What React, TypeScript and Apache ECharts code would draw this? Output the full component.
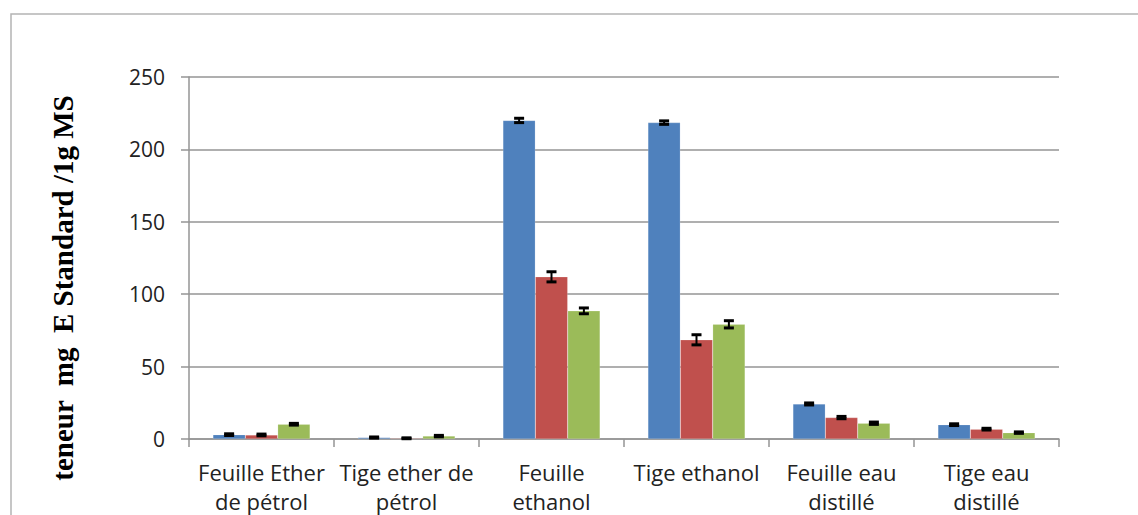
import React, { useEffect, useRef } from "react";
import * as echarts from "echarts";

const categories = [
  "Feuille Ether\nde pétrol",
  "Tige ether de\npétrol",
  "Feuille\nethanol",
  "Tige ethanol",
  "Feuille eau\ndistillé",
  "Tige eau\ndistillé",
];
const blueValues = [3, 1, 220, 218.5, 24.2, 9.9];
const redValues = [2.8, 0.5, 112, 68.5, 14.8, 6.8];
const greenValues = [10.2, 2, 88.5, 79.2, 10.9, 4.4];
const blueErrors = [0.6, 0.4, 1.5, 1.2, 0.7, 0.6];
const redErrors = [0.6, 0.3, 3.5, 3.5, 0.8, 0.6];
const greenErrors = [0.6, 0.5, 2, 2.5, 0.8, 0.5];
const yTicks = [0, 50, 100, 150, 200, 250];
const yTitle = "teneur  mg  E Standard /1g MS";

const colors = ["#4F81BD", "#C0504D", "#9BBB59"];

export default function App() {
  const ref = useRef<HTMLDivElement>(null);
  useEffect(() => {
    document.body.style.margin = "0";
    const chart = echarts.init(ref.current!, null, { renderer: "svg" });
    const allValues = [blueValues, redValues, greenValues];
    const allErrors = [blueErrors, redErrors, greenErrors];
    const errData: number[][] = [];
    allValues.forEach((vals, s) => {
      vals.forEach((v, i) => {
        errData.push([i, v, allErrors[s][i], s]);
      });
    });
    const gridLine = "#959595";
    chart.setOption({
      animation: false,
      backgroundColor: "#ffffff",
      grid: { left: 189, right: 79, top: 77, bottom: 75, containLabel: false },
      xAxis: {
        type: "category",
        data: categories,
        axisLine: { lineStyle: { color: gridLine, width: 1.5 } },
        axisTick: { show: true, length: 8, lineStyle: { color: gridLine, width: 1.5 } },
        axisLabel: {
          color: "#222",
          fontFamily: "Open Sans",
          fontSize: 22,
          lineHeight: 29,
          margin: 18,
          interval: 0,
          verticalAlign: "top",
        },
      },
      yAxis: {
        type: "value",
        min: 0,
        max: 250,
        interval: 50,
        axisLine: { show: true, lineStyle: { color: gridLine, width: 1.5 } },
        axisTick: { show: true, length: 8, lineStyle: { color: gridLine, width: 1.5 } },
        splitLine: { show: true, lineStyle: { color: gridLine, width: 1.5 } },
        axisLabel: {
          color: "#222",
          fontFamily: "Open Sans",
          fontSize: 21,
          margin: 24,
          formatter: (v: number) => (yTicks.includes(v) ? String(v) : ""),
        },
      },
      graphic: [
        {
          type: "polyline",
          shape: { points: [[11, 520], [11, 14], [1140, 14]] },
          style: { stroke: "#b4b4b4", lineWidth: 1.5, fill: "none" },
          silent: true,
        },
        {
          type: "text",
          x: 63,
          y: 288,
          rotation: Math.PI / 2,
          style: {
            text: yTitle,
            font: "bold 29px 'Liberation Serif'",
            fill: "#000",
            textAlign: "center",
            textVerticalAlign: "middle",
          },
        },
      ],
      series: [
        ...allValues.map((vals, s) => ({
          type: "bar",
          data: vals,
          barGap: "0%",
          barCategoryGap: "33%",
          itemStyle: { color: colors[s], borderColor: "rgba(255,255,255,0.35)", borderWidth: 0.5 },
          z: 2,
        })),
        {
          type: "custom",
          data: errData,
          z: 5,
          renderItem: (params: any, api: any) => {
            const x = api.value(0);
            const v = api.value(1);
            const e = api.value(2);
            const s = api.value(3);
            const bandW = api.size([1, 0])[0];
            const bw = (bandW * 0.67) / 3;
            const c = api.coord([x, v]);
            const cx = c[0] + (s - 1) * bw;
            const top = api.coord([x, v + e])[1];
            const bot = api.coord([x, Math.max(0, v - e)])[1];
            const hw = 5;
            const st = { stroke: "#000", lineWidth: 2 };
            return {
              type: "group",
              children: [
                { type: "line", shape: { x1: cx, y1: top, x2: cx, y2: bot }, style: st },
                { type: "line", shape: { x1: cx - hw, y1: top, x2: cx + hw, y2: top }, style: { stroke: "#000", lineWidth: 3 } },
                { type: "line", shape: { x1: cx - hw, y1: bot, x2: cx + hw, y2: bot }, style: { stroke: "#000", lineWidth: 3 } },
              ],
            };
          },
        },
      ],
    });
    return () => chart.dispose();
  }, []);
  return <div ref={ref} style={{ width: 1138, height: 515 }} />;
}
